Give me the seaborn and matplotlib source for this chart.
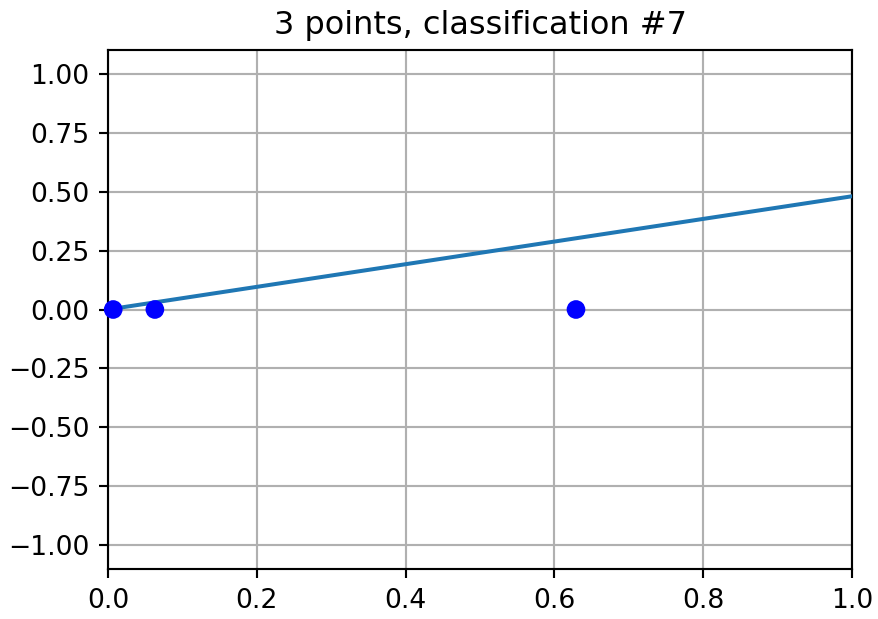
import matplotlib
matplotlib.use("Agg")
import matplotlib.pyplot as plt
import seaborn as sns
import pandas as pd

# Sample points and separating line
point_x = [0.007, 0.063, 0.629]
point_y = [0.0, 0.0, 0.0]
line_x = [0.0, 1.0]
line_y = [0.0, 0.48]
title = "3 points, classification #7"

points = pd.DataFrame({"x": point_x, "y": point_y})
line = pd.DataFrame({"x": line_x, "y": line_y})

sns.set_style("ticks")
plt.rcParams["font.family"] = ["DejaVu Sans"]
plt.rcParams["text.color"] = "black"
plt.rcParams["xtick.color"] = "black"
plt.rcParams["ytick.color"] = "black"
plt.rcParams["axes.labelcolor"] = "black"

DPI = 192
fig = plt.figure(figsize=(878 / DPI, 619 / DPI), dpi=DPI)
ax = fig.add_axes([108 / 878, 1 - 569 / 619, (852 - 108) / 878, (569 - 50) / 619])

sns.lineplot(data=line, x="x", y="y", ax=ax, color="#1f77b4", linewidth=1.5, zorder=3)
sns.scatterplot(data=points, x="x", y="y", ax=ax, color="blue", s=49,
                edgecolor="none", zorder=4, clip_on=False)

ax.set_xlim(0, 1)
ax.set_ylim(-1.1, 1.1)
ax.set_xticks([0.0, 0.2, 0.4, 0.6, 0.8, 1.0])
ax.set_yticks([-1.0, -0.75, -0.5, -0.25, 0.0, 0.25, 0.5, 0.75, 1.0])
ax.grid(True, color="#b0b0b0", linewidth=0.8)
ax.set_axisbelow(True)
ax.set_xlabel("")
ax.set_ylabel("")
ax.tick_params(labelsize=10, direction="out", length=3.5, width=0.8,
               color="black", labelcolor="black")
for sp in ax.spines.values():
    sp.set_color("black")
    sp.set_linewidth(0.8)
    sp.set_visible(True)
ax.set_title(title, fontsize=12, color="black")

fig.savefig("out.png", dpi=DPI)
